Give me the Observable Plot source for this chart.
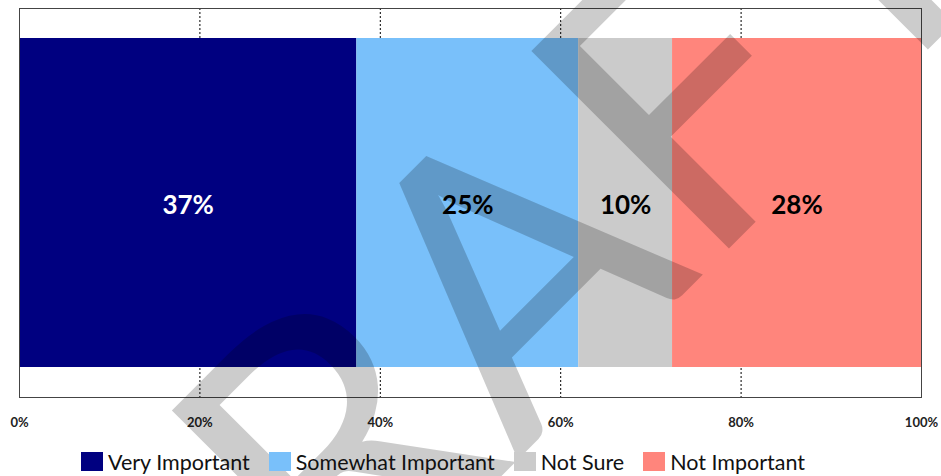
<!DOCTYPE html>
<html><head><meta charset="utf-8">
<script src="https://cdn.jsdelivr.net/npm/d3@7"></script>
<script src="https://cdn.jsdelivr.net/npm/@observablehq/plot@0.6"></script>
<style>
body{margin:0;background:#fff;font-family:Lato,"Open Sans",sans-serif;}
#wrap{position:relative;width:941px;height:476px;overflow:hidden;background:#fff;}
#legend{position:absolute;left:81px;top:445px;}
.lg-swatch{margin-right:19px !important;}
.lg-swatch > svg{margin-right:5px !important;}
</style></head><body><div id="wrap"></div>
<script>
const categories = ["Very Important", "Somewhat Important", "Not Sure", "Not Important"];
const values = [37.4, 24.6, 10.4, 27.6];
const labels = ["37%", "25%", "10%", "28%"];
const colors = ["#000080", "#79C0FA", "#CBCBCB", "#FF857C"];
const tickValues = [0, 20, 40, 60, 80, 100];
const gridValues = [20, 40, 60, 80];
const watermark = ["DRAFT"];

const ends = d3.cumsum(values);
const data = categories.map((c, i) => ({
  category: c, group: "All", label: labels[i],
  x1: ends[i] - values[i], x2: ends[i], mid: ends[i] - values[i] / 2,
  light: i === 0
}));

const plot = Plot.plot({
  width: 941, height: 476,
  marginLeft: 19, marginRight: 20, marginTop: 8, marginBottom: 79,
  style: {fontFamily: "Lato, 'Open Sans', sans-serif", overflow: "hidden", background: "transparent"},
  x: {domain: [0, 100], axis: null},
  y: {domain: ["All"], paddingInner: 0, paddingOuter: 0.09, axis: null},
  color: {domain: categories, range: colors},
  marks: [
    Plot.ruleX(gridValues, {stroke: "#000", strokeDasharray: "2,2", strokeWidth: 1}),
    Plot.barX(data, {x1: "x1", x2: "x2", y: "group", fill: "category"}),
    Plot.text(data.filter(d => d.light), {x: "mid", y: "group", text: "label", dy: 3, fill: "white", fontSize: 26, fontWeight: "bold"}),
    Plot.text(data.filter(d => !d.light), {x: "mid", y: "group", text: "label", dy: 3, fill: "black", fontSize: 26, fontWeight: "bold"}),
    Plot.frame({stroke: "#444", strokeWidth: 1}),
    Plot.axisX(tickValues, {anchor: "bottom", tickSize: 0, tickPadding: 20, tickFormat: d => d + "%", fontSize: 13, fontWeight: "bold", fill: "#222"}),
    Plot.text(watermark, {frameAnchor: "middle", dx: 108, dy: 196, rotate: -45, fontSize: 390, lineAnchor: "bottom", fill: "black", fillOpacity: 0.2, fontFamily: "Lato, sans-serif"})
  ]
});
document.getElementById("wrap").appendChild(plot);

const legend = Plot.legend({
  color: {domain: categories, range: colors},
  swatchWidth: 22, swatchHeight: 19,
  className: "lg",
  style: {fontSize: "21.5px", fontFamily: "Lato, 'Open Sans', sans-serif", color: "#111"}
});
legend.id = "legend";
document.getElementById("wrap").appendChild(legend);
</script></body></html>
